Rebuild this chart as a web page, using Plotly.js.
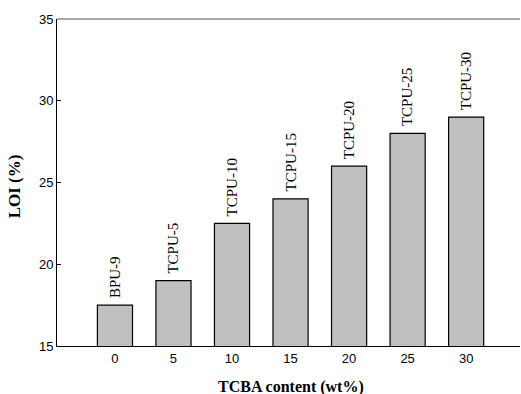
<!DOCTYPE html>
<html>
<head>
<meta charset="utf-8">
<script src="https://cdn.plot.ly/plotly-3.0.1.min.js"></script>
<style>html,body{margin:0;padding:0;background:#fff;}#chart{width:521px;height:394px;}</style>
</head>
<body>
<div id="chart"></div>
<script>
const tcbaContent = [0, 5, 10, 15, 20, 25, 30];
const loiValues = [17.5, 19, 22.5, 24, 26, 28, 29];
const sampleLabels = ["BPU-9", "TCPU-5", "TCPU-10", "TCPU-15", "TCPU-20", "TCPU-25", "TCPU-30"];
const xTickLabels = ["0", "5", "10", "15", "20", "25", "30"];
const yTickValues = [15, 20, 25, 30, 35];
const xTitle = "TCBA content (wt%)";
const yTitle = "LOI (%)";

const trace = {
  type: "bar",
  x: tcbaContent,
  y: loiValues,
  width: 3,
  marker: {color: "#c0c0c0", line: {color: "#000", width: 1.2}},
  hoverinfo: "skip",
  showlegend: false
};

const serif = "Liberation Serif, Times New Roman, serif";
const annotations = tcbaContent.map((x, i) => ({
  x: x, y: loiValues[i], xref: "x", yref: "y",
  text: sampleLabels[i], textangle: -90, showarrow: false,
  xanchor: "center", yanchor: "bottom", yshift: 5,
  font: {family: serif, size: 15, color: "#000"}
}));
annotations.push({
  xref: "paper", yref: "paper", x: 0.505, y: -0.125,
  text: "<b>" + xTitle + "</b>", showarrow: false,
  xanchor: "center", yanchor: "middle",
  font: {family: serif, size: 16, color: "#000"}
});
annotations.push({
  xref: "paper", yref: "paper", x: -0.093, y: 0.488,
  text: "<b>" + yTitle + "</b>", showarrow: false, textangle: -90,
  xanchor: "center", yanchor: "middle",
  font: {family: serif, size: 17, color: "#000"}
});

const layout = {
  width: 521, height: 394,
  margin: {l: 57, r: 1, t: 19, b: 48},
  paper_bgcolor: "#fff", plot_bgcolor: "#fff",
  font: {family: "Liberation Sans, Arial, sans-serif", size: 13, color: "#000"},
  xaxis: {
    range: [-4.95, 34.6], tickvals: tcbaContent, ticktext: xTickLabels,
    ticks: "", showgrid: false, zeroline: false,
    showline: true, linecolor: "#000", linewidth: 1,
    tickfont: {size: 13}
  },
  yaxis: {
    range: [15, 35], tickvals: yTickValues,
    ticks: "inside", ticklen: 4, tickcolor: "#000",
    showgrid: false, zeroline: false,
    showline: true, linecolor: "#000", linewidth: 1,
    tickfont: {size: 13}
  },
  shapes: [{type: "line", xref: "paper", yref: "paper", x0: 0, x1: 1, y0: 1, y1: 1,
    line: {color: "#555", width: 1.2}}],
  annotations: annotations,
  bargap: 0
};

Plotly.newPlot("chart", [trace], layout, {displayModeBar: false, staticPlot: true});
</script>
</body>
</html>
